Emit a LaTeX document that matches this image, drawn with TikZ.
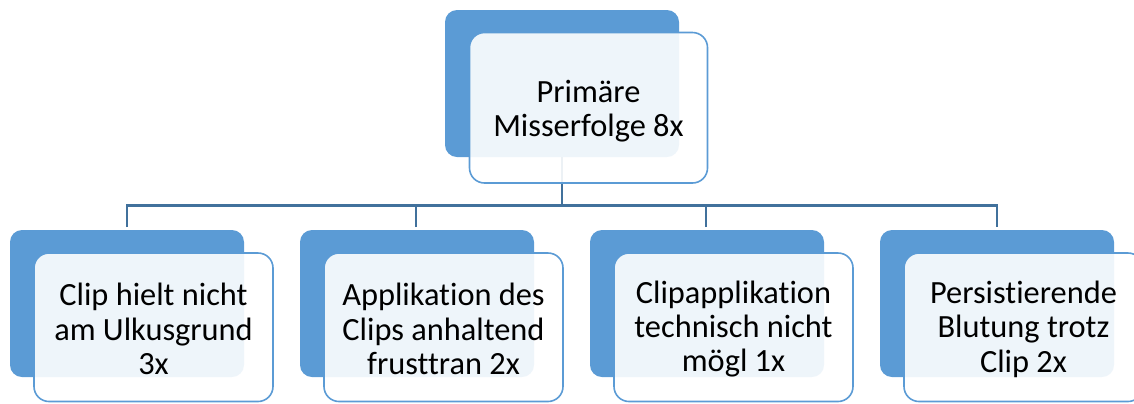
\documentclass[tikz,border=0pt]{standalone}
\usepackage{fontspec}
\setmainfont{Carlito}[Ligatures={NoCommon}]
\definecolor{darkbox}{HTML}{5B9BD5}
\definecolor{conn}{HTML}{41719C}
\begin{document}
\begin{tikzpicture}[x=1bp,y=-1bp,
  backbox/.style={fill=darkbox,draw=none,rounded corners=12bp},
  frontbox/.style={fill=white,fill opacity=0.9,draw=darkbox,draw opacity=1,line width=1.6bp,rounded corners=15bp},
  label/.style={align=center,font=\fontsize{32.5}{34.5}\selectfont,text=black,inner sep=0pt},
  link/.style={draw=conn,line width=2.4bp}]
\useasboundingbox (0,0) rectangle (1134,403);
\clip (0,0) rectangle (1134,403);
% anchors of connectors
\coordinate (top) at (562,157);
\coordinate (hub) at (562,205.5);
\coordinate (c1) at (127,227);
\coordinate (c2) at (416,227);
\coordinate (c3) at (706,227);
\coordinate (c4) at (997,227);
\draw[link] (top) -- (hub);
\draw[link] (c1) |- (hub) -| (c4);
\draw[link] (c2) -- (c2 |- hub);
\draw[link] (c3) -- (c3 |- hub);
% top box
\path[backbox] (445,10) rectangle (679,157);
\path[frontbox] (469.5,32.5) rectangle (707.5,183);
\node[label] (t) at (588.5,111) {Primäre\\Misserfolge 8x};
% bottom boxes
\foreach \dx/\n/\txt in {0/b1/{Clip hielt nicht\\am Ulkusgrund\\3x},
                         290/b2/{Applikation des\\Clips anhaltend\\frusttran 2x},
                         580/b3/{Clipapplikation\\technisch nicht\\mögl 1x},
                         870/b4/{Persistierende\\Blutung trotz\\Clip 2x}}{
  \path[backbox] (10+\dx,230) rectangle (244+\dx,377);
  \path[frontbox] (34+\dx,253) rectangle (273+\dx,401.5);
  \node[label] (\n) at (153.5+\dx,329) {\txt};
}
\end{tikzpicture}
\end{document}
